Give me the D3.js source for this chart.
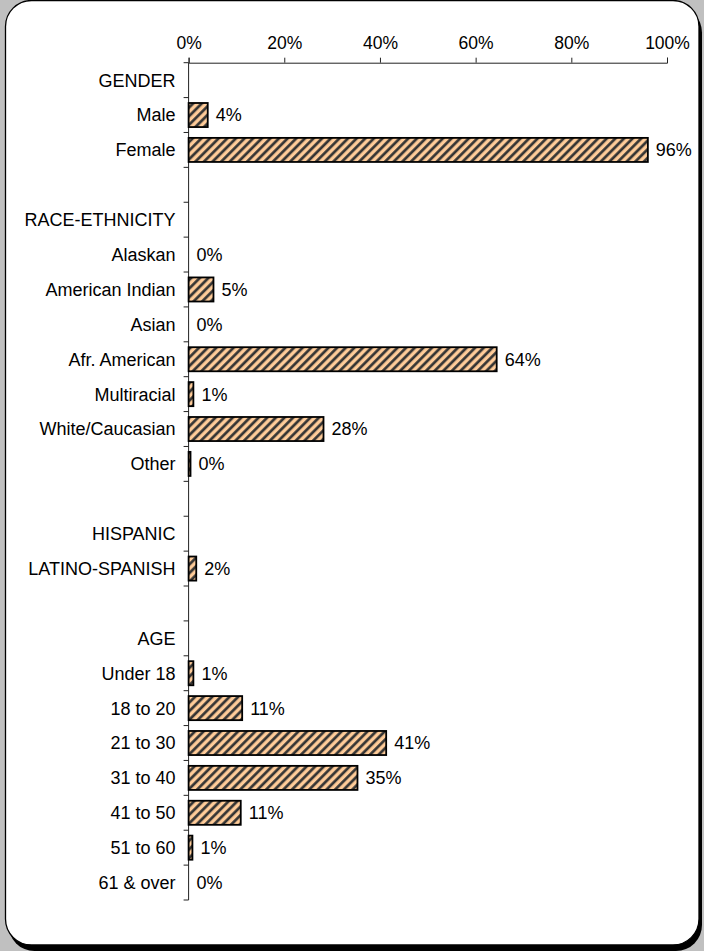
<!DOCTYPE html>
<html>
<head>
<meta charset="utf-8">
<script src="https://cdn.jsdelivr.net/npm/d3@7"></script>
<style>
  html, body { margin: 0; padding: 0; background: #c0c0c0; }
  svg { display: block; }
  text { font-family: "Liberation Sans", Arial, sans-serif; fill: #000; }
</style>
</head>
<body>
<div id="chart"></div>
<script>
// row labels, top to bottom ("" = spacer row)
var categories = ["GENDER", "Male", "Female", "",
    "RACE-ETHNICITY", "Alaskan", "American Indian", "Asian", "Afr. American",
    "Multiracial", "White/Caucasian", "Other", "",
    "HISPANIC", "LATINO-SPANISH", "",
    "AGE", "Under 18", "18 to 20", "21 to 30", "31 to 40", "41 to 50", "51 to 60", "61 & over"];

// percent per row (null = heading / spacer, no bar, no label)
var values = [null, 4, 96, null,
    null, 0, 5.2, 0, 64.4, 1.0, 28.2, 0.4, null,
    null, 1.6, null,
    null, 1.0, 11.2, 41.3, 35.3, 10.9, 0.8, 0];

var xTicks = [0, 20, 40, 60, 80, 100];

function draw() {
    var W = 704, H = 951;
    var margin = {top: 62.7, left: 188.6, right: 37, bottom: 51};
    var iw = W - margin.left - margin.right;
    var ih = H - margin.top - margin.bottom;
    var fs = '18px';

    var svg = d3.select('#chart').append('svg')
        .attr('width', W)
        .attr('height', H);

    // hatch pattern (dark "/" stripes on peach)
    var defs = svg.append('defs');
    var pat = defs.append('pattern')
        .attr('id', 'hatch')
        .attr('patternUnits', 'userSpaceOnUse')
        .attr('width', 6.1)
        .attr('height', 10)
        .attr('patternTransform', 'rotate(45)');
    pat.append('rect').attr('width', 6.1).attr('height', 10).attr('fill', '#ffcc99');
    pat.append('rect').attr('x', 0.2).attr('width', 2.7).attr('height', 10).attr('fill', '#333');

    // panel + shadow
    svg.append('rect')
        .attr('x', 8.5).attr('y', 6.5)
        .attr('width', 693.5).attr('height', 944.5)
        .attr('rx', 26).attr('fill', '#000');
    svg.append('rect')
        .attr('x', 5.5).attr('y', 0.5)
        .attr('width', 693.5).attr('height', 944.5)
        .attr('rx', 26).attr('fill', '#fff')
        .attr('stroke', '#000').attr('stroke-width', 1.3);

    var g = svg.append('g')
        .attr('transform', `translate(${margin.left}, ${margin.top})`);

    var x = d3.scaleLinear().domain([0, 100]).range([0, iw]);
    var idx = d3.range(categories.length);
    var y = d3.scaleBand().domain(idx).range([0, ih])
        .paddingInner(0.31).paddingOuter(0.155);

    // top axis
    var xAxis = g.append('g')
        .call(d3.axisTop(x).tickValues(xTicks).tickFormat(d => d + '%').tickSize(5).tickPadding(9));
    xAxis.select('.domain').attr('stroke', '#222').attr('stroke-width', 1);
    xAxis.selectAll('.tick line').attr('stroke', '#222');
    xAxis.selectAll('.tick text')
        .style('font-size', '17.5px')
        .style('font-family', '"Liberation Sans", Arial, sans-serif');

    // left axis line with ticks at row boundaries
    var step = y.step();
    g.append('line')
        .attr('x1', 0).attr('x2', 0)
        .attr('y1', 0).attr('y2', ih)
        .attr('stroke', '#222');
    g.selectAll('.ytick')
        .data(d3.range(categories.length + 1))
        .enter().append('line')
        .attr('class', 'ytick')
        .attr('x1', -5).attr('x2', 0)
        .attr('y1', d => d * step).attr('y2', d => d * step)
        .attr('stroke', '#222');

    // category labels
    g.selectAll('.cat')
        .data(idx)
        .enter().append('text')
        .attr('class', 'cat')
        .attr('x', -13)
        .attr('y', d => y(d) + y.bandwidth() / 2)
        .attr('dy', '0.36em')
        .attr('text-anchor', 'end')
        .style('font-size', fs)
        .text(d => categories[d]);

    // bars
    var rows = idx.filter(i => values[i] !== null);
    g.selectAll('.bar')
        .data(rows.filter(i => values[i] > 0))
        .enter().append('rect')
        .attr('class', 'bar')
        .attr('x', x(0))
        .attr('y', d => y(d))
        .attr('width', d => x(values[d]) - x(0))
        .attr('height', y.bandwidth())
        .attr('fill', 'url(#hatch)')
        .attr('stroke', '#000')
        .attr('stroke-width', 1.8);

    // value labels
    g.selectAll('.val')
        .data(rows)
        .enter().append('text')
        .attr('class', 'val')
        .attr('x', d => x(values[d]) + 8)
        .attr('y', d => y(d) + y.bandwidth() / 2)
        .attr('dy', '0.36em')
        .style('font-size', fs)
        .text(d => Math.round(values[d]) + '%');
}

document.addEventListener('DOMContentLoaded', draw);
</script>
</body>
</html>
